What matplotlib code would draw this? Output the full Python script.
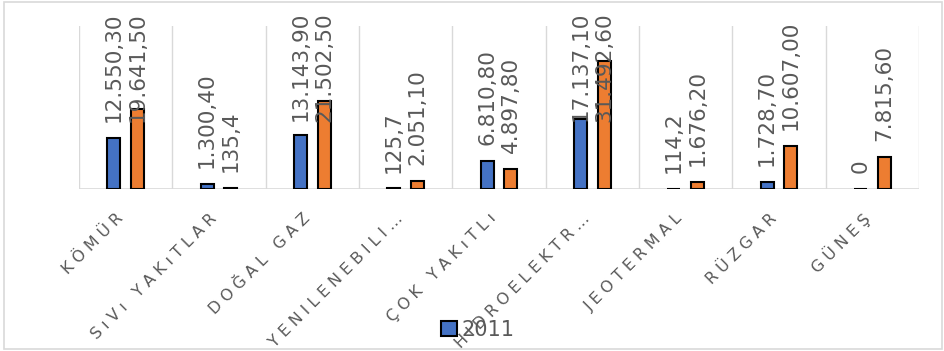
import numpy as np
import matplotlib.pyplot as plt
import matplotlib.transforms as mtransforms
from matplotlib.patches import Rectangle

categories = ['KÖMÜR', 'SıVı YAKıTLAR', 'DOĞAL GAZ', 'YENILENEBILI…', 'ÇOK YAKıTLı',
              'HIDROELEKTR…', 'JEOTERMAL', 'RÜZGAR', 'GÜNEŞ']
vals_2011 = [12550.30, 1300.40, 13143.90, 125.7, 6810.80, 17137.10, 114.2, 1728.70, 0]
vals_2 = [19641.50, 135.4, 21502.50, 2051.10, 4897.80, 31492.60, 1676.20, 10607.00, 7815.60]
labels_2011 = ['12.550,30', '1.300,40', '13.143,90', '125,7', '6.810,80', '17.137,10', '114,2', '1.728,70', '0']
labels_2 = ['19.641,50', '135,4', '21.502,50', '2.051,10', '4.897,80', '31.492,60', '1.676,20', '10.607,00', '7.815,60']

GRAY = '#595959'
W, H, DPI = 944, 351, 100

fig = plt.figure(figsize=(W / DPI, H / DPI), dpi=DPI)
ax = fig.add_axes([79 / W, 1 - 189 / H, (919 - 79) / W, (189 - 26) / H])

x = np.arange(len(categories))
bw = 0.14
off = 0.128
b1 = ax.bar(x - off, vals_2011, bw, color='#4472C4', edgecolor='black', linewidth=1.5, label='2011', zorder=3)
b2 = ax.bar(x + off, vals_2, bw, color='#ED7D31', edgecolor='black', linewidth=1.5, zorder=3)

ax.set_xlim(-0.5, len(categories) - 0.5)
ax.set_ylim(0, 40000)
for s in ax.spines.values():
    s.set_visible(False)
ax.set_yticks([])
ax.axhline(0, color='#D9D9D9', lw=1.2, zorder=2)
for b in np.arange(-0.5, len(categories), 1.0):
    ax.axvline(b, color='#D9D9D9', lw=1.0, zorder=1)

# wide letter spacing like the original axis labels
sp = '\u2009\u200a'
ax.set_xticks(x)
ax.set_xticklabels([sp.join(c) for c in categories], rotation=45, ha='right', va='center',
                   rotation_mode='anchor', fontsize=11.5, color=GRAY)
ax.tick_params(axis='x', length=0, pad=18)
shift = mtransforms.ScaledTranslation(-5 / DPI, -2 / DPI, fig.dpi_scale_trans)
for lab in ax.get_xticklabels():
    lab.set_transform(lab.get_transform() + shift)

texts = []
for xs, vals, labs in ((x - off, vals_2011, labels_2011), (x + off, vals_2, labels_2)):
    for xi, v, lab in zip(xs, vals, labs):
        t = ax.annotate(lab, (xi, v), xytext=(0, 11.5), textcoords='offset points',
                        rotation=90, ha='center', va='bottom', fontsize=15.5, color=GRAY,
                        annotation_clip=False, zorder=4)
        texts.append(t)

leg = fig.legend(handles=[b1], labels=['2011'], loc='center', bbox_to_anchor=(478 / W, 1 - 330 / H),
                 frameon=False, fontsize=15, handlelength=0.75, handleheight=0.75,
                 handletextpad=0.25, labelcolor=GRAY)

fig.patches.append(Rectangle((4 / W, 2 / H), 938 / W, 347 / H, transform=fig.transFigure,
                             fill=False, edgecolor='#D9D9D9', lw=1.2))

# keep labels inside the chart like Excel does
fig.canvas.draw()
r = fig.canvas.get_renderer()
for t in texts:
    bb = t.get_window_extent(r)
    lim = H - 12
    if bb.y1 > lim:
        d = (bb.y1 - lim) * 72 / DPI
        t.xyann = (0, 11.5 - d)

fig.savefig('out.png', dpi=DPI)
